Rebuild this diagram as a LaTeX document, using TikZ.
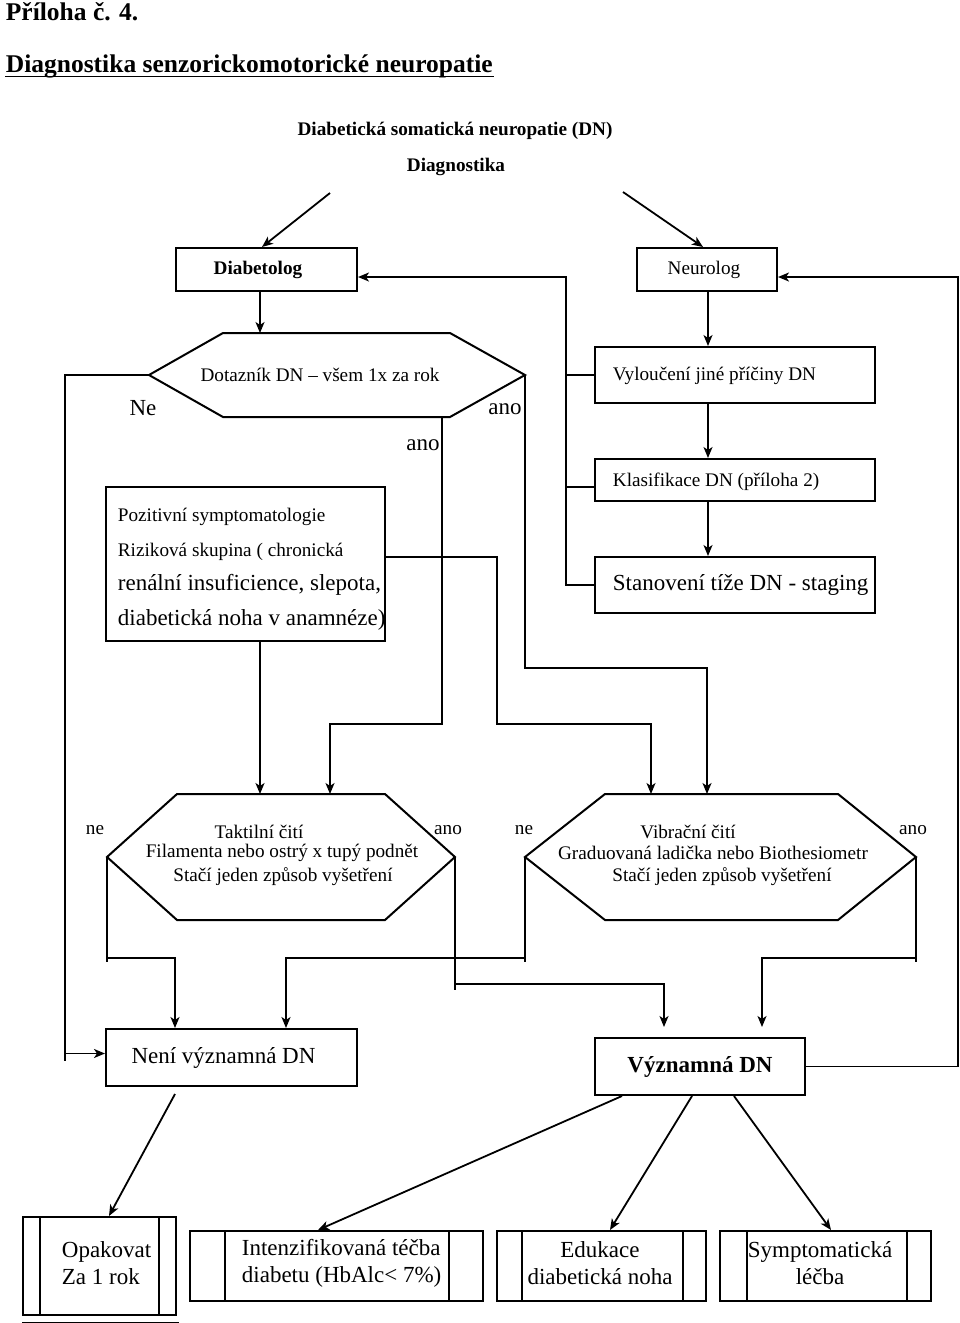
\documentclass[tikz,border=0pt]{standalone}
\usepackage{fontspec}
\setmainfont{Liberation Serif}
\usetikzlibrary{arrows.meta,calc}
\begin{document}
\begin{tikzpicture}[x=1pt,y=-1pt,line width=1.8pt,
  box/.style={draw,line width=2pt,inner sep=0pt},
  hexline/.style={line width=2pt,line join=miter},
  arr/.style={-{Stealth[length=11pt,width=9pt,inset=3pt]}},
  ta/.style={inner sep=0pt,font=\fontsize{19.2}{22.5}\selectfont},
  tb/.style={inner sep=0pt,font=\fontsize{23}{27}\selectfont},
  tt/.style={inner sep=0pt,font=\bfseries\fontsize{25.5}{30}\selectfont},
]
\useasboundingbox (0,0) rectangle (960,1323);

% titles
\node[tt,anchor=base west] (title1) at (5,20) {Příloha č. 4.};
\node[tt,anchor=base west] (title2) at (5,72) {Diagnostika senzorickomotorické neuropatie};
\draw[line width=1.5pt] ($(title2.base west)+(0,4.5)$) -- ($(title2.base east)+(0,4.5)$);
\node[ta,font=\bfseries\fontsize{19.2}{22.5}\selectfont] (head1) at (455,131) {Diabetická somatická neuropatie (DN)};
\node[ta,font=\bfseries\fontsize{19.2}{22.5}\selectfont] (head2) at (456,167) {Diagnostika};

% helper coordinates
\coordinate (sA) at (330,193);
\coordinate (sB) at (623,192);
\coordinate (cx260) at (260,0);
\coordinate (cx708) at (708,0);

% boxes
\node[box,minimum width=181pt,minimum height=43pt,font=\bfseries\fontsize{19.2}{22.5}\selectfont] (diab) at (266.5,269.5) {\hspace*{-17pt}Diabetolog};
\node[box,minimum width=140pt,minimum height=43pt,font=\fontsize{19.2}{22.5}\selectfont] (neur) at (707,269.5) {\hspace*{-6pt}Neurolog};

\node[box,minimum width=280pt,minimum height=56pt] (vyl) at (735,375) {};
\node[box,minimum width=280pt,minimum height=42pt] (kla) at (735,480) {};
\node[box,minimum width=280pt,minimum height=56pt] (stan) at (735,585) {};
\node[ta,anchor=west] (vylt) at (612,376) {Vyloučení jiné příčiny DN};
\node[ta,anchor=west] (klat) at (612,482) {Klasifikace DN (příloha 2)};
\node[tb,anchor=west] (stant) at (612,585) {Stanovení tíže DN - staging};

\node[box,minimum width=279pt,minimum height=154pt] (poz) at (245.5,564) {};
\node[ta,anchor=west] (poz1) at (117,517) {Pozitivní symptomatologie};
\node[ta,anchor=west] (poz2) at (117,552) {Riziková skupina ( chronická};
\node[tb,anchor=west] (poz3) at (117,585) {renální insuficience, slepota,};
\node[tb,anchor=west] (poz4) at (117,620) {diabetická noha v anamnéze)};

\node[box,minimum width=251pt,minimum height=57pt,font=\fontsize{23}{27}\selectfont] (neni) at (231.5,1057.5) {\hspace*{-16pt}Není významná DN};
\node[box,minimum width=210pt,minimum height=57pt,font=\bfseries\fontsize{23}{27}\selectfont] (vyz) at (700,1066.5) {Významná DN};

\node[box,minimum width=153pt,minimum height=98pt] (opak) at (99.5,1266) {};
\node[box,minimum width=293pt,minimum height=70pt] (int) at (336.5,1266) {};
\node[box,minimum width=209pt,minimum height=70pt] (edu) at (601.5,1266) {};
\node[box,minimum width=211pt,minimum height=70pt] (sym) at (825.5,1266) {};
\foreach \n/\a/\b in {opak/18/18,int/36/35,edu/26/24,sym/28/25}{
  \draw[line width=2pt] ($(\n.north west)+(\a,0)$) -- ($(\n.south west)+(\a,0)$);
  \draw[line width=2pt] ($(\n.north east)+(-\b,0)$) -- ($(\n.south east)+(-\b,0)$);
}
\draw[line width=2.8pt] ($(opak.south west)+(0,7)$) -- ($(opak.south east)+(2,7)$);
\node[tb,anchor=west,align=left] (opakt) at (61,1263.5) {Opakovat\\Za 1 rok};
\node[tb,anchor=west,align=left] (intt) at (241,1263.5) {Intenzifikovaná téčba\\diabetu (HbAlc< 7\%)};
\node[tb,align=center] (edut) at (600,1263.5) {Edukace\\diabetická noha};
\node[tb,align=center] (symt) at (820,1263.5) {Symptomatická\\léčba};

% hexagons
\coordinate (h1L) at (149,375); \coordinate (h1TL) at (223,333); \coordinate (h1TR) at (450,333);
\coordinate (h1R) at (525,375); \coordinate (h1BR) at (450,417); \coordinate (h1BL) at (223,417);
\draw[hexline] (h1L) -- (h1TL) -- (h1TR) -- (h1R) -- (h1BR) -- (h1BL) -- cycle;
\node[ta] (h1) at (320,375) {Dotazník DN – všem 1x za rok};
\coordinate (h1T) at (260,333);
\coordinate (h1B) at (442,417);

\coordinate (h2L) at (107,857); \coordinate (h2TL) at (177,794); \coordinate (h2TR) at (385,794);
\coordinate (h2R) at (455,857); \coordinate (h2BR) at (385,920); \coordinate (h2BL) at (177,920);
\draw[hexline] (h2L) -- (h2TL) -- (h2TR) -- (h2R) -- (h2BR) -- (h2BL) -- cycle;
\node[ta] (h2a) at (259,832) {Taktilní čití};
\node[ta] (h2b) at (282,853) {Filamenta nebo ostrý x tupý podnět};
\node[ta] (h2c) at (283,877) {Stačí jeden způsob vyšetření};
\coordinate (h2T1) at (260,794); \coordinate (h2T2) at (330,794);

\coordinate (h3L) at (525,857); \coordinate (h3TL) at (605,794); \coordinate (h3TR) at (838,794);
\coordinate (h3R) at (916,857); \coordinate (h3BR) at (838,920); \coordinate (h3BL) at (605,920);
\draw[hexline] (h3L) -- (h3TL) -- (h3TR) -- (h3R) -- (h3BR) -- (h3BL) -- cycle;
\node[ta] (h3a) at (688,832) {Vibrační čití};
\node[ta] (h3b) at (713,853) {Graduovaná ladička nebo Biothesiometr};
\node[ta] (h3c) at (722,877) {Stačí jeden způsob vyšetření};
\coordinate (h3T1) at (651,794); \coordinate (h3T2) at (707,794);

% labels
\node[tb] (lNe) at (143,408) {Ne};
\node[tb] (lano1) at (505,409) {ano};
\node[tb] (lano2) at (423,445) {ano};
\node[ta] (lne2) at (95,830) {ne};
\node[ta] (lano3) at (448,830) {ano};
\node[ta] (lne3) at (524,830) {ne};
\node[ta] (lano4) at (913,830) {ano};

% connectors top
\draw[arr] (sA) -- ($(diab.north)+(-4.5,0)$);
\draw[arr] (sB) -- ($(neur.north)+(-4,0)$);
\draw[arr] (stan.west) -| (566,277) -- ($(diab.east)+(0,7.5)$);
\draw (vyl.west) -- (566,375);
\draw ($(kla.west)+(0,7)$) -- (566,487);
\draw[arr] (vyz.east) -| (958,277) -- ($(neur.east)+(0,7.5)$);
\draw[arr] (neur.south -| cx708) -- (vyl.north -| cx708);
\draw[arr] (vyl.south -| cx708) -- (kla.north -| cx708);
\draw[arr] (kla.south -| cx708) -- (stan.north -| cx708);
\draw[arr] (diab.south -| cx260) -- (h1T);

% hexagon 1 outputs
\draw[arr] (h1L) -- (65,375) |- ($(neni.west)+(0,-4)$);
\draw (65,1053) -- (65,1061);
\draw[arr] (h1R) -- (525,668) -| (h3T2);
\draw[arr] (h1B) -- (442,724) -| (h2T2);
\draw[arr] ($(poz.east)+(0,-7)$) -- (497,557) -- (497,724) -| (h3T1);
\draw[arr] (poz.south -| cx260) -- (h2T1);

% hexagon 2/3 outputs
\draw[arr] (h2L) -- (107,958) -| ($(neni.north west)+(70,0)$);
\draw (107,958) -- (107,962);
\draw[arr] (h2R) -- (455,984) -| ($(vyz.north west)+(70,-10)$);
\draw (455,984) -- (455,990);
\draw[arr] (h3L) -- (525,958) -| ($(neni.north west)+(181,0)$);
\draw (525,958) -- (525,962);
\draw[arr] (h3R) -- (916,958) -| ($(vyz.north west)+(168,-10)$);
\draw (916,958) -- (916,962);

% bottom
\draw[arr] ($(neni.south west)+(70,7)$) -- ($(opak.north)+(9.5,0)$);
\draw[arr] ($(vyz.south west)+(28,0)$) -- ($(int.north west)+(129,0)$);
\draw[arr] ($(vyz.south west)+(98,0)$) -- ($(edu.north west)+(114,0)$);
\draw[arr] ($(vyz.south west)+(140,0)$) -- ($(sym.north west)+(112,0)$);
\end{tikzpicture}
\end{document}
